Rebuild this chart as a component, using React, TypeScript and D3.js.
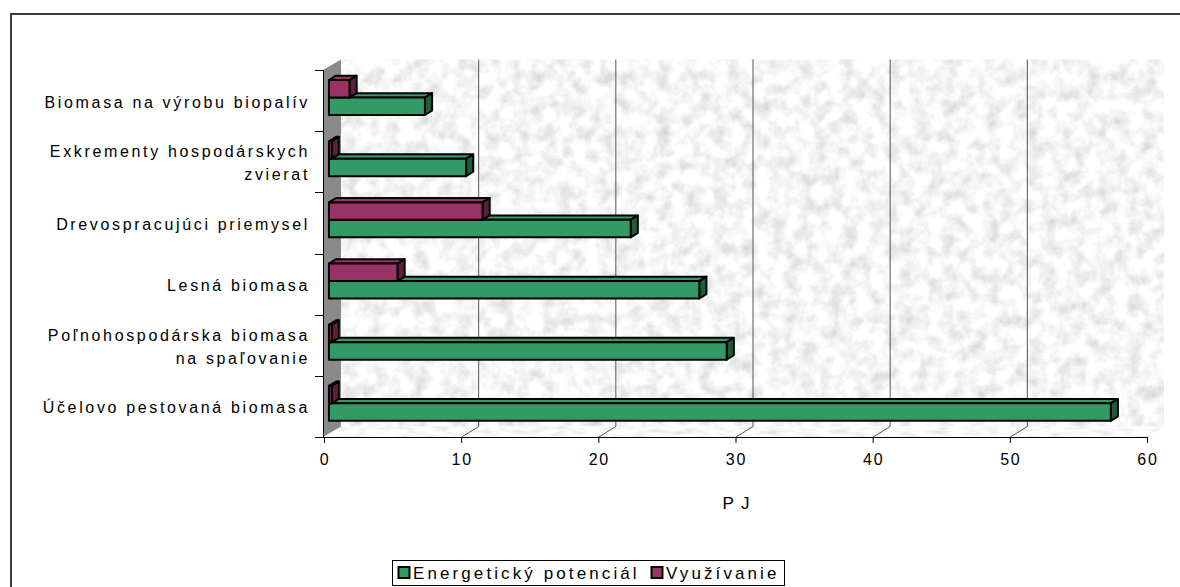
import React from "react";
import * as d3 from "d3";

const categories: string[] = [
  "Biomasa na výrobu biopalív",
  "Exkrementy hospodárskych\nzvierat",
  "Drevospracujúci priemysel",
  "Lesná biomasa",
  "Poľnohospodárska biomasa\nna spaľovanie",
  "Účelovo pestovaná biomasa",
];
const potential: number[] = [7.0, 10.0, 22.0, 27.0, 29.0, 57.0];
const usage: number[] = [1.5, 0.2, 11.2, 5.0, 0.2, 0.2];
const xTicks: number[] = [0, 10, 20, 30, 40, 50, 60];
const seriesNames: string[] = ["Energetický potenciál", "Využívanie"];
const axisTitle = "PJ";

const W = 1180;
const H = 587;
const DX = 17;
const DY = -10.5;
const FONT = "'Liberation Sans', Arial, sans-serif";
const GREEN = "#339966";
const GREEN_D = "#1f5c3d";
const PURPLE = "#993366";
const PURPLE_D = "#5c1f3d";

export default function App() {
  const x = d3.scaleLinear().domain([0, 60]).range([324, 1147]);
  const y = d3.scaleBand<string>().domain(categories).range([70, 437]).padding(0);
  const bw = y.bandwidth() / 3.5;
  const d0 = 0.29;
  const d1 = 0.71;
  const bdx = (d1 - d0) * DX;
  const bdy = (d1 - d0) * DY;

  const x0 = x(0);
  const x1 = x(60);
  const yTop = 70;
  const yBot = 437;

  const bar = (v: number, yStart: number, fill: string, dark: string, key: string) => {
    const xa = x(0) + d0 * DX;
    const xb = x(v) + d0 * DX;
    const ya = yStart + d0 * DY;
    const yb = ya + bw;
    const top = `${xa},${ya} ${xb},${ya} ${xb + bdx},${ya + bdy} ${xa + bdx},${ya + bdy}`;
    const side = `${xb},${ya} ${xb + bdx},${ya + bdy} ${xb + bdx},${yb + bdy} ${xb},${yb}`;
    return (
      <g key={key} stroke="#000" strokeWidth={2} strokeLinejoin="round">
        <polygon points={top} fill={fill} />
        <polygon points={side} fill={dark} />
        <rect x={xa} y={ya} width={Math.max(0.5, xb - xa)} height={bw} fill={fill} />
      </g>
    );
  };

  const wall = `${x0 + DX},${yTop + DY} ${x1 + DX},${yTop + DY} ${x1 + DX},${yBot + DY} ${x0 + DX},${yBot + DY}`;
  const leftWall = `${x0 - 1},${yTop} ${x0 + DX},${yTop + DY} ${x0 + DX},${yBot + DY} ${x0 - 1},${yBot}`;
  const floor = `${x0},${yBot} ${x1},${yBot} ${x1 + DX},${yBot + DY} ${x0 + DX},${yBot + DY}`;

  return (
    <svg width={W} height={H} style={{ position: "absolute", left: 0, top: 0 }} fontFamily={FONT}>
      <defs>
        <filter id="texWall" x="0" y="0" width="100%" height="100%">
          <feTurbulence type="fractalNoise" baseFrequency="0.07" numOctaves={4} seed={4} result="n" />
          <feColorMatrix
            in="n"
            type="matrix"
            values="0.6 0 0 0 0.62  0.6 0 0 0 0.62  0.6 0 0 0 0.62  0 0 0 0 1"
          />
        </filter>
        <filter id="texFloor" x="0" y="0" width="100%" height="100%">
          <feTurbulence type="fractalNoise" baseFrequency="0.06 0.2" numOctaves={2} seed={7} result="n" />
          <feColorMatrix
            in="n"
            type="matrix"
            values="0.5 0 0 0 0.7  0.5 0 0 0 0.7  0.5 0 0 0 0.7  0 0 0 0 1"
          />
        </filter>
        <clipPath id="clipWall">
          <polygon points={wall} />
        </clipPath>
        <clipPath id="clipFloor">
          <polygon points={floor} />
        </clipPath>
      </defs>
      <rect x={0} y={0} width={W} height={H} fill="#fff" />
      <rect x={11} y={14} width={W + 20} height={H + 20} fill="#fff" stroke="#3a3a3a" strokeWidth={2} />

      {/* back wall */}
      <g clipPath="url(#clipWall)">
        <rect x={x0 + DX} y={yTop + DY} width={x1 - x0} height={yBot - yTop} filter="url(#texWall)" />
      </g>
      {/* floor */}
      <g clipPath="url(#clipFloor)">
        <rect x={x0} y={yBot + DY} width={x1 - x0 + DX} height={-DY} filter="url(#texFloor)" />
      </g>
      {/* left wall */}
      <polygon points={leftWall} fill="#8a8a8a" />

      {/* gridlines */}
      {xTicks
        .filter((t) => t > 0 && t < 60)
        .map((t) => (
          <g key={"g" + t} stroke="#555" strokeWidth={1}>
            <line x1={x(t) + DX + 0.5} x2={x(t) + DX + 0.5} y1={yTop + DY} y2={yBot + DY} />
            <line x1={x(t) + 0.5} x2={x(t) + DX + 0.5} y1={yBot} y2={yBot + DY} />
          </g>
        ))}

      {/* bars */}
      {categories.map((c, i) => {
        const b = y(c)!;
        return (
          <g key={"b" + i}>
            {bar(potential[i], b + 1.75 * bw, GREEN, GREEN_D, "p" + i)}
            {bar(usage[i], b + 0.75 * bw, PURPLE, PURPLE_D, "u" + i)}
          </g>
        );
      })}

      {/* y axis */}
      <line x1={x0 - 0.5} x2={x0 - 0.5} y1={yTop} y2={yBot} stroke="#000" strokeWidth={1} />
      {d3.range(categories.length + 1).map((i) => {
        const yy = Math.round(yTop + i * y.bandwidth()) + 0.5;
        return <line key={"yt" + i} x1={x0 - 9} x2={x0} y1={yy} y2={yy} stroke="#000" strokeWidth={1} />;
      })}
      {categories.map((c, i) => {
        const lines = c.split("\n");
        const cy = y(c)! + y.bandwidth() / 2 + 1;
        const lh = 23;
        const startY = cy - ((lines.length - 1) * lh) / 2;
        return (
          <text
            key={"yl" + i}
            x={x0 - 15}
            y={startY}
            textAnchor="end"
            fontSize={16}
            letterSpacing={2.65}
            fill="#000"
            dominantBaseline="central"
          >
            {lines.map((ln, j) => (
              <tspan key={j} x={x0 - 14} y={startY + j * lh}>
                {ln}
              </tspan>
            ))}
          </text>
        );
      })}

      {/* x axis */}
      <line x1={x0} x2={x1} y1={yBot + 0.5} y2={yBot + 0.5} stroke="#000" strokeWidth={1} />
      {xTicks.map((t) => (
        <g key={"xt" + t}>
          <line x1={x(t) + 0.5} x2={x(t) + 0.5} y1={yBot} y2={yBot + 6} stroke="#000" strokeWidth={1} />
          <text x={x(t) + 1} y={yBot + 28} textAnchor="middle" fontSize={16} letterSpacing={1.8} fill="#000">
            {t}
          </text>
        </g>
      ))}
      <text x={(x0 + x1) / 2 + 4} y={509} textAnchor="middle" fontSize={17} letterSpacing={7} fill="#000">
        {axisTitle}
      </text>

      {/* legend */}
      <rect x={392.5} y={560.5} width={392} height={25} fill="#fff" stroke="#000" strokeWidth={1} />
      {seriesNames.map((s, i) => {
        const lx = i === 0 ? 398 : 651;
        return (
          <g key={"lg" + i}>
            <rect x={lx + 0.5} y={567} width={11} height={11} fill={i === 0 ? GREEN : PURPLE} stroke="#000" strokeWidth={2} />
            <text x={lx + 15} y={579} fontSize={17} letterSpacing={3.1} fill="#000">
              {s}
            </text>
          </g>
        );
      })}
    </svg>
  );
}
